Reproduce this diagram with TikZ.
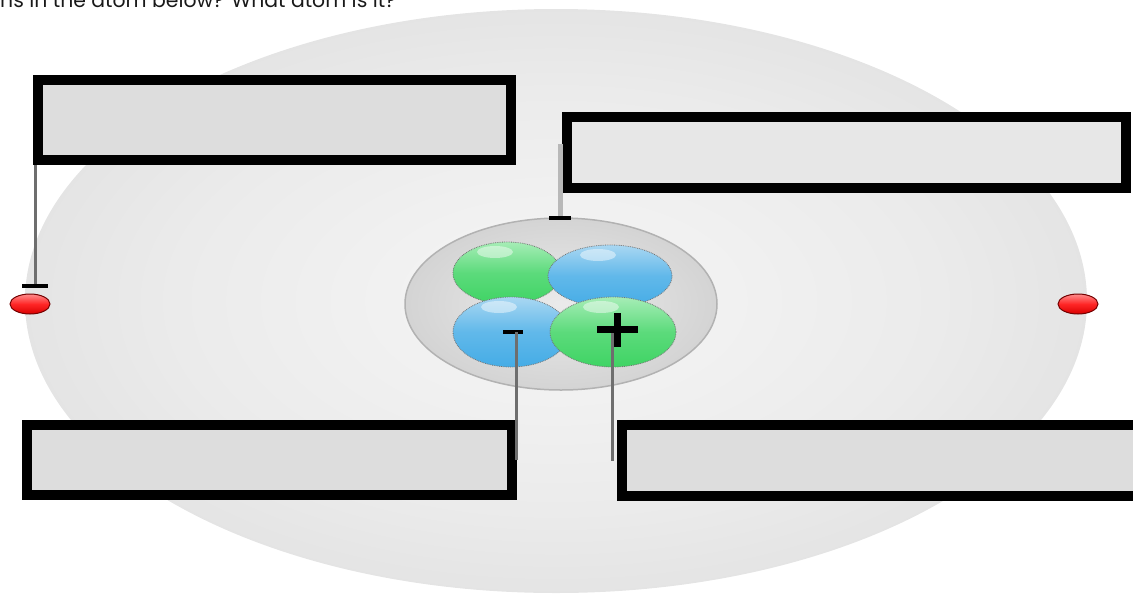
\documentclass[tikz,border=0pt]{standalone}
\usepackage{fontspec}
\setmainfont{Poppins}
\usetikzlibrary{shapes.geometric}

\definecolor{cloudin}{HTML}{F6F6F6}
\definecolor{cloudmid}{HTML}{EBEBEB}
\definecolor{cloudout}{HTML}{D6D6D6}
\definecolor{boxgray}{HTML}{DDDDDD}
\definecolor{leadgray}{HTML}{6E6E6E}
\definecolor{protongreen}{HTML}{3FD464}
\definecolor{protonlight}{HTML}{A6EDB6}
\definecolor{neutronblue}{HTML}{45ACE6}
\definecolor{neutronlight}{HTML}{A9D7F2}

% soft glow for the electron cloud
\pgfdeclareradialshading{cloudglow}{\pgfpoint{0bp}{0bp}}{%
  color(0bp)=(cloudin); color(18bp)=(cloudmid); color(40bp)=(cloudout); color(50bp)=(cloudout)}

\tikzset{
  labelbox/.style={draw=black, line width=10pt, fill=boxgray, inner sep=0pt},
  leader/.style={draw=leadgray, line width=3pt},
  tick/.style={draw=black, line width=4pt},
  nucleon/.style={ellipse, inner sep=0pt, draw=black!55, densely dotted, line width=0.8pt,
    path picture={\fill[white, opacity=0.45]
      ([xshift=-12pt, yshift=-10pt]path picture bounding box.north) ellipse [x radius=18pt, y radius=6pt];}},
  proton/.style={nucleon, top color=protonlight, bottom color=protongreen, middle color=protongreen!85!white},
  neutron/.style={nucleon, top color=neutronlight, bottom color=neutronblue, middle color=neutronblue!85!white},
  electron/.style={ellipse, inner sep=0pt, draw=red!45!black, line width=1pt,
    top color=red!45!white, bottom color=red!85!black, middle color=red!85!white,
    minimum width=40pt, minimum height=20pt}
}

\begin{document}
\begin{tikzpicture}[x=1pt, y=-1pt]
  \useasboundingbox (0,0) rectangle (1133,595);

  % Draw the cloud around the nucleus
  \shade[shading=cloudglow] (556,301) ellipse [x radius=531, y radius=292];

  % Question line, cut off at the top
  \node[anchor=base west, inner sep=0pt, text=black!90, font=\fontsize{20.4}{22}\selectfont]
    (question) at (0,7) {ns in the atom below? What atom is it?};

  % Electrons
  \node[electron] (eleft) at (30,304) {};
  \node[electron] (eright) at (1078,304) {};

  % Label boxes
  \node[labelbox, minimum width=473, minimum height=80] (box1) at (274.5,120) {};
  \node[labelbox, fill=boxgray!70!white, minimum width=559, minimum height=71] (box2) at (846.5,152.5) {};
  \node[labelbox, minimum width=485, minimum height=70] (box3) at (269.5,460) {};
  \node[labelbox, minimum width=523, minimum height=71] (box4) at (883.5,460.5) {};

  % Leader to the left electron
  \coordinate (edash) at (35,286);
  \draw[leader] (box1.south west -| edash) -- (edash);
  \draw[tick] ([xshift=-13pt]edash) -- ([xshift=13pt]edash);

  % Nucleus
  \node[ellipse, draw=black!30, line width=1.5pt, inner color=black!8, outer color=black!17,
    minimum width=312, minimum height=172] (nucleus) at (561,304) {};
  \node[proton, minimum width=108, minimum height=62] (p1) at (507,273) {};
  \node[neutron, minimum width=124, minimum height=62] (n1) at (610,276) {};
  \node[neutron, minimum width=116, minimum height=70] (n2) at (511,332) {};
  \node[proton, minimum width=126, minimum height=70] (p2) at (613,332) {};

  % Leader to the nucleus edge
  \coordinate (ndash) at (560,218);
  \draw[leader, draw=black!28, line width=5pt] ([yshift=9pt]ndash |- box2.center) -- (ndash);
  \draw[tick] ([xshift=-11pt]ndash) -- ([xshift=11pt]ndash);

  % Leaders to a neutron and a proton
  \coordinate (nminus) at (513,332);
  \coordinate (nplus) at (617,329);
  \draw[tick] ([xshift=-10pt]nminus) -- ([xshift=10pt]nminus);
  \draw[leader] ([xshift=3pt]nminus) -- ([xshift=3pt]nminus |- box3.east);
  \draw[leader] ([xshift=-5pt]nplus) -- ([xshift=-5pt]nplus |- box4.west);
  \draw[tick, line width=7pt] ([xshift=-20pt]nplus) -- ([xshift=21pt]nplus);
  \draw[tick, line width=7pt] ([yshift=16pt]nplus) -- ([yshift=-18pt]nplus);
\end{tikzpicture}
\end{document}
